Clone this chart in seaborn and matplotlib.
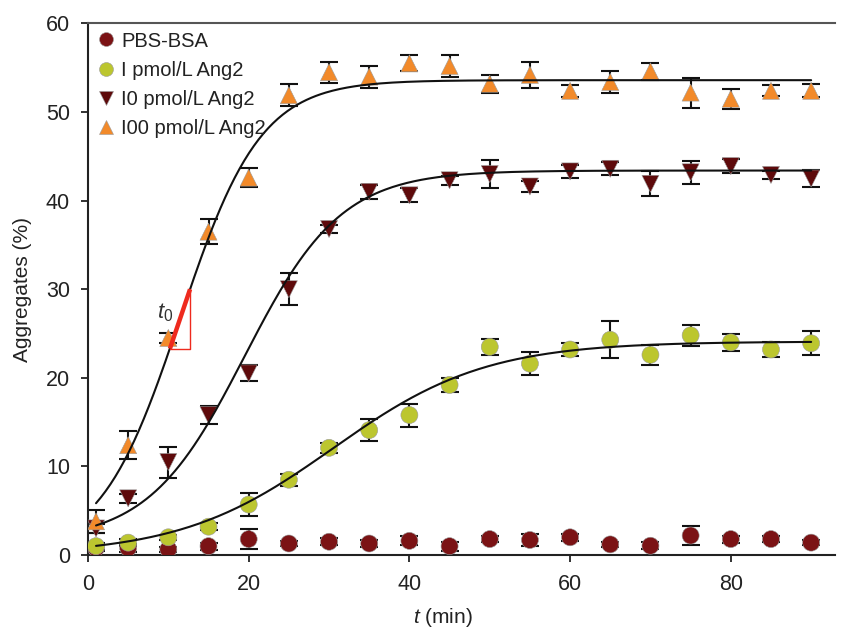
import numpy as np
import pandas as pd
import matplotlib
matplotlib.use("Agg")
import matplotlib.pyplot as plt
from matplotlib.lines import Line2D
import seaborn as sns

# Time points (min)
t_min = [1, 5, 10, 15, 20, 25, 30, 35, 40, 45, 50, 55, 60, 65, 70, 75, 80, 85, 90]

# Aggregates (%) and error bars
pbs_bsa = [0.8, 0.8, 0.65, 1.0, 1.8, 1.3, 1.5, 1.3, 1.6, 1.0, 1.8, 1.7, 2.0, 1.2, 1.05, 2.2, 1.8, 1.8, 1.4]
pbs_bsa_err = [0.3, 0.45, 0.3, 0.4, 1.1, 0.3, 0.4, 0.4, 0.5, 0.5, 0.3, 0.7, 0.4, 0.3, 0.4, 1.1, 0.4, 0.3, 0.3]

ang2_1 = [1.0, 1.4, 2.0, 3.2, 5.7, 8.5, 12.1, 14.1, 15.8, 19.2, 23.5, 21.6, 23.2, 24.3, 22.6, 24.8, 24.0, 23.2, 23.9]
ang2_1_err = [0.4, 0.4, 0.3, 0.4, 1.25, 0.7, 0.6, 1.2, 1.3, 0.8, 0.9, 1.3, 0.7, 2.1, 1.1, 1.2, 1.0, 0.8, 1.35]

ang2_10 = [3.0, 6.4, 10.5, 15.8, 20.5, 30.0, 36.8, 41.0, 40.6, 42.3, 43.0, 41.6, 43.3, 43.6, 41.9, 43.2, 43.9, 42.9, 42.5]
ang2_10_err = [0.5, 0.5, 1.75, 1.0, 0.9, 1.8, 0.5, 0.8, 0.8, 0.5, 1.6, 0.6, 0.7, 0.75, 1.4, 1.3, 0.75, 0.45, 1.0]

ang2_100 = [3.8, 12.4, 24.5, 36.5, 42.6, 51.9, 54.5, 54.0, 55.5, 55.2, 53.2, 54.2, 52.4, 53.4, 54.6, 52.2, 51.5, 52.4, 52.4]
ang2_100_err = [1.3, 1.6, 0.6, 1.4, 1.1, 1.25, 1.2, 1.25, 0.9, 1.2, 1.0, 1.5, 0.7, 1.2, 0.95, 1.7, 1.1, 0.6, 0.75]

labels = ["PBS-BSA", "I pmol/L Ang2", "I0 pmol/L Ang2", "I00 pmol/L Ang2"]
colors = ["#7b1315", "#bcc62f", "#5e0a0b", "#f28a2a"]
markers = ["o", "o", "v", "^"]

# Boltzmann fit parameters (A1, A2, x0, dx) for the three Ang2 curves
fit_1 = [0.0, 24.1, 30.5, 9.5]
fit_10 = [1.5, 43.4, 19.5, 6.0]
fit_100 = [0.0, 53.6, 11.5, 5.0]

# tangent used to mark t0 on the 100 pmol/L curve
tangent_t = [10.2, 12.7]
tangent_y = [23.3, 30.0]


def boltzmann(t, a1, a2, x0, dx):
    return a2 + (a1 - a2) / (1 + np.exp((t - x0) / dx))


series = [pbs_bsa, ang2_1, ang2_10, ang2_100]
errs = [pbs_bsa_err, ang2_1_err, ang2_10_err, ang2_100_err]
df = pd.concat(
    [pd.DataFrame({"t": t_min, "val": s, "err": e, "group": lab})
     for s, e, lab in zip(series, errs, labels)],
    ignore_index=True,
)

t_fine = np.linspace(1, 90, 300)
fits = pd.concat(
    [pd.DataFrame({"t": t_fine, "val": boltzmann(t_fine, *p), "group": lab})
     for p, lab in zip([fit_1, fit_10, fit_100], labels[1:])],
    ignore_index=True,
)

sns.set_style("ticks")
plt.rcParams["font.family"] = ["Liberation Sans", "DejaVu Sans"]
plt.rcParams["mathtext.fontset"] = "custom"
plt.rcParams["mathtext.it"] = "Liberation Sans:italic"
plt.rcParams["mathtext.rm"] = "Liberation Sans"

fig = plt.figure(figsize=(8.42, 6.31), dpi=100)
ax = fig.add_axes([0.1045, 0.1204, 0.8875, 0.8424])

# error bars first, markers on top, fit lines over them
for lab in labels:
    d = df[df["group"] == lab]
    ax.errorbar(d["t"], d["val"], yerr=d["err"], fmt="none", ecolor="#111111",
                elinewidth=1.5, capsize=6.5, capthick=1.5, zorder=2)

sns.scatterplot(data=df, x="t", y="val", hue="group", style="group",
                hue_order=labels, style_order=labels,
                palette=dict(zip(labels, colors)),
                markers=dict(zip(labels, markers)),
                s=150, edgecolor="#9a9a9a", linewidth=0.4,
                legend=False, zorder=3, ax=ax)

sns.lineplot(data=fits, x="t", y="val", units="group", estimator=None,
             color="#111111", linewidth=1.5, zorder=4, ax=ax)

# t0 tangent triangle
ax.plot(tangent_t, tangent_y, color="#ee2a1e", linewidth=3.2, zorder=5,
        solid_capstyle="butt")
ax.plot([tangent_t[0], tangent_t[1], tangent_t[1]],
        [tangent_y[0], tangent_y[0], tangent_y[1]],
        color="#ee2a1e", linewidth=1.0, zorder=5)
ax.text(9.6, 27.4, r"$t_0$", fontsize=16, color="#333333",
        ha="center", va="center")

ax.set_xlim(0, 93)
ax.set_ylim(0, 60)
ax.set_xticks([0, 20, 40, 60, 80])
ax.set_yticks([0, 10, 20, 30, 40, 50, 60])
ax.tick_params(axis="both", labelsize=15.5, colors="#222222", length=5,
               width=1.3, direction="out")
ax.tick_params(axis="y", pad=8)
ax.tick_params(axis="x", pad=9)
ax.set_xlabel(r"$t$ (min)", fontsize=15, color="#222222")
ax.set_ylabel("Aggregates (%)", fontsize=15, color="#222222")
ax.xaxis.set_label_coords(0.475, -0.095)
ax.yaxis.set_label_coords(-0.075, 0.5)

for side in ["left", "bottom"]:
    ax.spines[side].set_color("#222222")
    ax.spines[side].set_linewidth(1.5)
ax.spines["top"].set_color("#555555")
ax.spines["top"].set_linewidth(1.5)
ax.spines["right"].set_visible(False)

handles = [Line2D([], [], linestyle="none", marker=m, markersize=10,
                  markerfacecolor=c, markeredgecolor="#9a9a9a",
                  markeredgewidth=0.4)
           for m, c in zip(markers, colors)]
leg = ax.legend(handles, labels, loc="upper left", frameon=False,
                fontsize=14.5, handletextpad=0.25, labelspacing=0.5,
                borderaxespad=0.0, handlelength=1.0,
                bbox_to_anchor=(0.0, 1.0))
for txt in leg.get_texts():
    txt.set_color("#222222")

fig.savefig("out.png", dpi=100)
